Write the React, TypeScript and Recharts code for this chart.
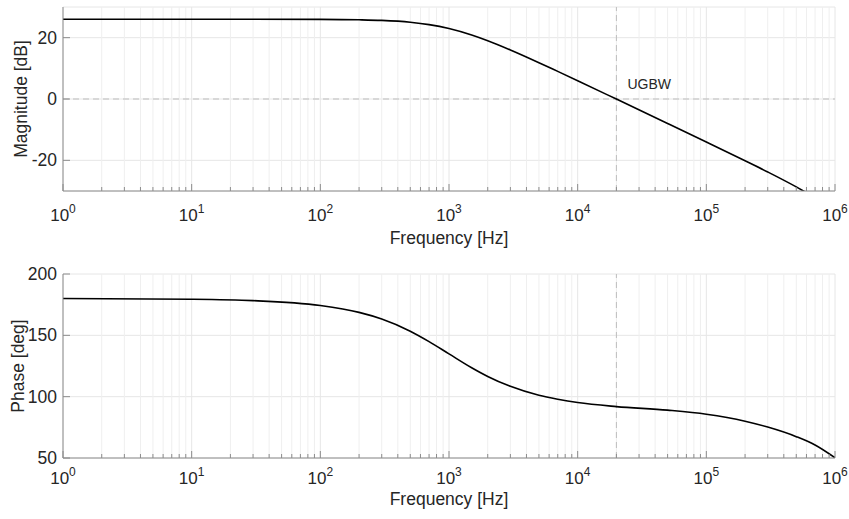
import { LineChart, Line, XAxis, YAxis, CartesianGrid, ReferenceLine, ReferenceDot } from 'recharts';

const FREQS = [1, 10, 30, 100, 200, 300, 500, 700, 1000, 1500, 2000, 3000, 5000, 7000, 1e4, 2e4, 5e4, 1e5, 2e5, 3e5, 5e5, 7e5, 1e6];
const MAGNITUDE = [26, 26, 26, 25.96, 25.83, 25.63, 25.03, 24.26, 22.99, 20.88, 19.01, 16.0, 11.85, 9.0, 5.96, -0.03, -7.98, -14.03, -20.14, -23.8, -28.67, -32.2, -36.2];
const PHASE = [180, 179.4, 178.3, 174.3, 168.7, 163.3, 153.4, 144.9, 134.9, 123.6, 116.5, 108.4, 101.1, 97.9, 95.2, 91.9, 89.0, 85.7, 80.0, 75.2, 67.4, 60.6, 50.2];

const DECADES = [1, 10, 100, 1000, 1e4, 1e5, 1e6];
const MINOR_STEPS = [2, 3, 4, 5, 6, 7, 8, 9];
const MAG_TICKS = [-20, 0, 20];
const PHASE_TICKS = [50, 100, 150, 200];
const UGBW = 2e4;

const FONT = '"Liberation Sans", Arial, sans-serif';
const AXIS = '#8c8c8c';
const TEXT = '#262626';
const GRID = '#e6e6e6';
const MINOR_GRID = '#efefef';
const DASH = '#bdbdbd';

const minorTicks = DECADES.slice(0, -1).flatMap((d) => MINOR_STEPS.map((m) => d * m));
const allTicks = [...DECADES, ...minorTicks].sort((a, b) => a - b);

const magData = FREQS.map((f, i) => ({ f, v: MAGNITUDE[i] }));
const phaseData = FREQS.map((f, i) => ({ f, v: PHASE[i] }));

const isDecade = (v: number) => DECADES.includes(v);

function makeXTick(labelOffset: number) {
  return (props: any) => {
    const { x, y, payload } = props;
    const v = payload.value;
    const major = isDecade(v);
    const exp = Math.round(Math.log10(v));
    return (
      <g>
        <line x1={x} x2={x} y1={y} y2={y - (major ? 7 : 4)} stroke={AXIS} />
        {major && (
          <text x={x} y={y + labelOffset} textAnchor="middle" fontSize={17} fill={TEXT} fontFamily={FONT}>
            10<tspan dy={-8} fontSize={12}>{exp}</tspan>
          </text>
        )}
      </g>
    );
  };
}

const YTick = (props: any) => {
  const { x, y, payload } = props;
  return (
    <g>
      <line x1={x} x2={x + 7} y1={y} y2={y} stroke={AXIS} />
      <text x={x - 6} y={y} dy="0.35em" textAnchor="end" fontSize={17.5} fill={TEXT} fontFamily={FONT}>
        {payload.value}
      </text>
    </g>
  );
};

function xLabel(offset: number) {
  return (props: any) => {
    const vb = props.viewBox;
    return (
      <text x={vb.x + vb.width / 2} y={vb.y + offset} textAnchor="middle" fontSize={17.5} fill={TEXT} fontFamily={FONT}>
        Frequency [Hz]
      </text>
    );
  };
}

function yLabel(text: string, cx: number) {
  return (props: any) => {
    const vb = props.viewBox;
    const cy = vb.y + vb.height / 2;
    return (
      <text
        x={cx}
        y={cy}
        transform={`rotate(-90 ${cx} ${cy})`}
        textAnchor="middle"
        dominantBaseline="central"
        fontSize={17.5}
        fill={TEXT}
        fontFamily={FONT}
      >
        {text}
      </text>
    );
  };
}

function gridLines() {
  return allTicks.map((t) => (
    <ReferenceLine key={t} x={t} stroke={isDecade(t) ? GRID : MINOR_GRID} strokeWidth={1} />
  ));
}

export default function App() {
  return (
    <div style={{ position: 'absolute', left: 0, top: 0, width: 849, height: 519, background: '#fff' }}>
      <LineChart width={849} height={260} data={magData} margin={{ top: 7, right: 14, bottom: 39, left: 0 }}>
        <CartesianGrid vertical={false} stroke={GRID} />
        {gridLines()}
        <XAxis
          dataKey="f"
          type="number"
          scale="log"
          domain={[1, 1e6]}
          ticks={allTicks}
          interval={0}
          allowDataOverflow
          height={30}
          tickSize={0}
          tickMargin={0}
          stroke={AXIS}
          tick={makeXTick(30)}
          label={{ content: xLabel(53) }}
        />
        <YAxis
          type="number"
          domain={[-30, 30]}
          ticks={MAG_TICKS}
          allowDataOverflow
          width={63}
          tickSize={0}
          tickMargin={0}
          stroke={AXIS}
          tick={YTick}
          label={{ content: yLabel('Magnitude [dB]', 21) }}
        />
        <ReferenceLine y={0} stroke={DASH} strokeDasharray="6 4" />
        <ReferenceLine x={UGBW} stroke={DASH} strokeDasharray="6 4" />
        <ReferenceDot
          x={UGBW}
          y={5}
          r={1}
          fill="none"
          stroke="none"
          label={{
            content: (p: any) => (
              <text x={p.viewBox.x + 12} y={p.viewBox.y + 1} dominantBaseline="central" fontSize={14} fill={TEXT} fontFamily={FONT}>
                UGBW
              </text>
            ),
          }}
        />
        <Line dataKey="v" type="monotone" stroke="#000" strokeWidth={1.6} dot={false} isAnimationActive={false} />
      </LineChart>
      <LineChart width={849} height={259} data={phaseData} margin={{ top: 14, right: 14, bottom: 31, left: 0 }}>
        <CartesianGrid vertical={false} stroke={GRID} />
        {gridLines()}
        <XAxis
          dataKey="f"
          type="number"
          scale="log"
          domain={[1, 1e6]}
          ticks={allTicks}
          interval={0}
          allowDataOverflow
          height={30}
          tickSize={0}
          tickMargin={0}
          stroke={AXIS}
          tick={makeXTick(26)}
          label={{ content: xLabel(47) }}
        />
        <YAxis
          type="number"
          domain={[50, 200]}
          ticks={PHASE_TICKS}
          allowDataOverflow
          width={63}
          tickSize={0}
          tickMargin={0}
          stroke={AXIS}
          tick={YTick}
          label={{ content: yLabel('Phase [deg]', 18) }}
        />
        <ReferenceLine x={UGBW} stroke={DASH} strokeDasharray="6 4" />
        <Line dataKey="v" type="monotone" stroke="#000" strokeWidth={1.6} dot={false} isAnimationActive={false} />
      </LineChart>
    </div>
  );
}
